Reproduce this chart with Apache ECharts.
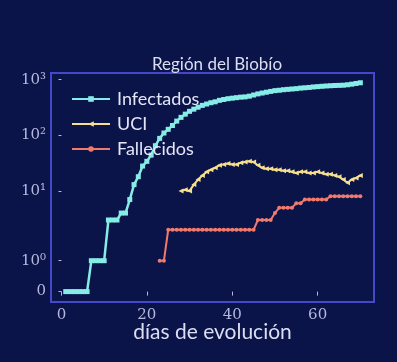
<!DOCTYPE html>
<html><head><meta charset="utf-8">
<script src="https://cdn.jsdelivr.net/npm/echarts@6/dist/echarts.min.js"></script>
<style>html,body{margin:0;padding:0;background:#0a1449;}#c{width:397px;height:362px;}</style>
</head><body><div id="c"></div>
<script>
// ---- data ----
const infDays = [1,2,3,4,5,6,7,8,9,10,11,12,13,14,15,16,17,18,19,20,21,22,23,24,25,26,27,28,29,30,31,32,33,34,35,36,37,38,39,40,41,42,43,44,45,46,47,48,49,50,51,52,53,54,55,56,57,58,59,60,61,62,63,64,65,66,67,68,69,70];
const infectados = [0,0,0,0,0,0,1,1,1,1,3,3,3,4,4,7,13,18,28,34,44,65,88,110,128,150,180,210,240,270,295,320,345,365,385,400,425,440,455,465,475,485,490,505,530,555,575,595,615,635,645,660,670,680,690,705,715,725,740,750,760,770,778,785,790,795,810,830,855,880];
const uciDays = [28,29,30,31,32,33,34,35,36,37,38,39,40,41,42,43,44,45,46,47,48,49,50,51,52,53,54,55,56,57,58,59,60,61,62,63,64,65,66,67,68,69,70];
const uci = [10,10.5,10,13,16,19,22,24,26,29,30,31,30,30,32,33,34,33,29,26,25,25,24,24,23,23,22,21,22,22,21,21,22,21,20,20,19,18,16,14,16,17,19];
const falDays = [23,24,25,26,27,28,29,30,31,32,33,34,35,36,37,38,39,40,41,42,43,44,45,46,47,48,49,50,51,52,53,54,55,56,57,58,59,60,61,62,63,64,65,66,67,68,69,70];
const fallecidos = [1,1,2,2,2,2,2,2,2,2,2,2,2,2,2,2,2,2,2,2,2,2,2,3,3,3,3,4,5,5,5,5,6,6,7,7,7,7,7,7,8,8,8,8,8,8,8,8];
const xTicks = [0,20,40,60];
const yTickValues = [0,1,10,100,1000];
const yTickLabels = ['0','10\u2070','10\u00b9','10\u00b2','10\u00b3'];
const seriesNames = ['Infectados','UCI','Fallecidos'];

// symlog scale (linthresh = 2, linscale = 1, base 10)
const LT = 2, ADJ = 1/(1-1/10);
function symlog(v){ const a=Math.abs(v); if(a<=LT) return v*ADJ; return Math.sign(v)*LT*(ADJ+Math.log10(a/LT)); }
const yTickPos = yTickValues.map(symlog);
const pair = (xs, ys) => xs.map((x,i)=>[x, symlog(ys[i])]);

const labelColor = '#b4b8dc';
const frameColor = '#4648cc';
const serifFont = '"DejaVu Serif", "Liberation Serif", serif';
const chart = echarts.init(document.getElementById('c'), null, {renderer:'canvas'});
chart.setOption({
  backgroundColor: '#0a1449',
  animation: false,
  title: {
    text: 'Región del Biobío', left: 212, top: 51, textAlign: 'center',
    textStyle: {color: '#dcdff2', fontSize: 17, fontWeight: 'normal', fontFamily: 'Lato'}
  },
  legend: {
    orient: 'vertical', left: 66, top: 85, itemWidth: 38, itemHeight: 7, itemGap: 7,
    textStyle: {color: '#e4e6f6', fontSize: 18, fontFamily: 'Lato', padding: [0,0,0,2]},
    data: seriesNames
  },
  grid: {left: 51, right: 23, top: 73, bottom: 60, show: true, borderColor: frameColor, borderWidth: 2, backgroundColor: 'transparent'},
  xAxis: {
    type: 'value', min: -2.45, max: 73.2,
    name: 'días de evolución', nameLocation: 'middle', nameGap: 20, nameMoveOverlap: false,
    nameTextStyle: {color: '#dcdff2', fontSize: 21, fontFamily: 'Lato', verticalAlign: 'top'},
    axisLine: {show: false},
    splitLine: {show: false},
    axisTick: {show: true, length: 4, lineStyle: {color: labelColor}, customValues: xTicks},
    axisLabel: {color: labelColor, fontSize: 15, fontFamily: serifFont, margin: 6, customValues: xTicks}
  },
  yAxis: {
    type: 'value', min: -0.374, max: 7.86,
    axisLine: {show: false},
    splitLine: {show: false},
    axisTick: {show: true, length: 3, lineStyle: {color: labelColor}, customValues: yTickPos},
    axisLabel: {color: labelColor, fontSize: 15, fontFamily: serifFont, margin: 5, customValues: yTickPos,
      formatter: function(v){ let best=0; yTickPos.forEach((p,i)=>{ if(Math.abs(p-v)<Math.abs(yTickPos[best]-v)) best=i; }); return yTickLabels[best]; }}
  },
  series: [
    {name: 'Infectados', type: 'line', data: pair(infDays, infectados), symbol: 'rect', symbolSize: 5,
     showAllSymbol: true, itemStyle: {color: '#86ece6'}, lineStyle: {width: 2.5, color: '#86ece6'}},
    {name: 'UCI', type: 'line', data: pair(uciDays, uci), symbol: 'triangle', symbolRotate: 90, symbolSize: 5,
     showAllSymbol: true, itemStyle: {color: '#f6e08e'}, lineStyle: {width: 2, color: '#f6e08e'}},
    {name: 'Fallecidos', type: 'line', data: pair(falDays, fallecidos), symbol: 'circle', symbolSize: 4,
     showAllSymbol: true, itemStyle: {color: '#f07a6c'}, lineStyle: {width: 2, color: '#f07a6c'}}
  ]
});
</script></body></html>
